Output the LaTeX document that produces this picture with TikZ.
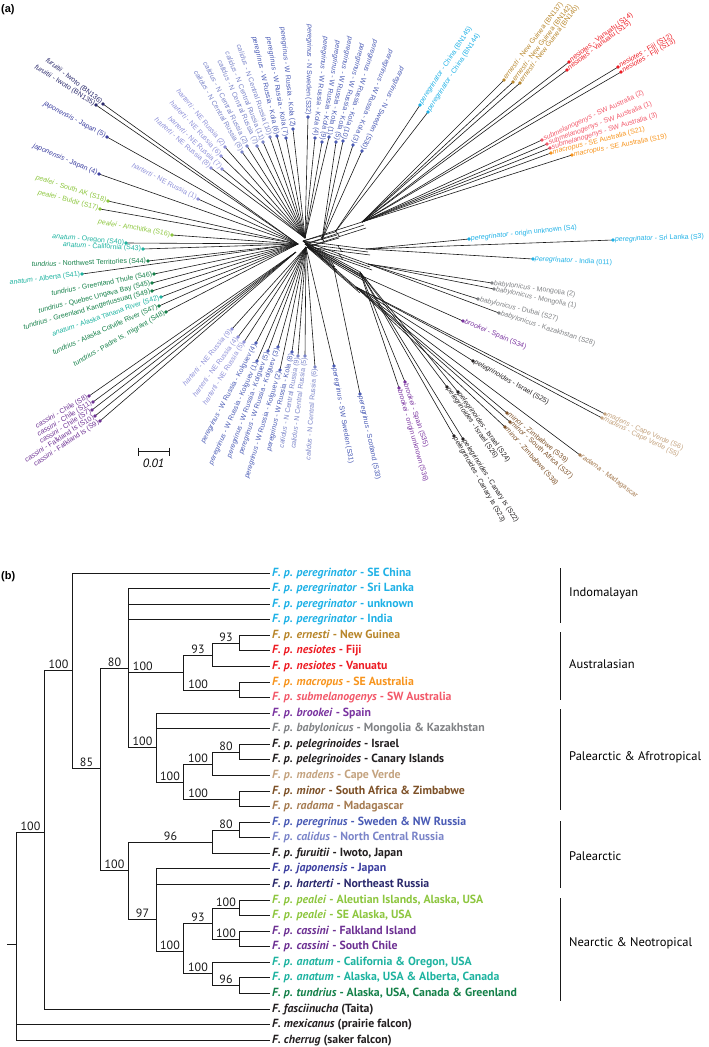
\documentclass[tikz,border=0pt]{standalone}
\usepackage{fontspec}
\setmainfont{PT Sans}
\newfontfamily\netfont{Liberation Sans}
\usetikzlibrary{calc}

\definecolor{cperegrinator}{HTML}{1FB1E6}
\definecolor{cernesti}{HTML}{B8862B}
\definecolor{cnesiotes}{HTML}{ED1C24}
\definecolor{cmacropus}{HTML}{F7941D}
\definecolor{csubmel}{HTML}{F2596A}
\definecolor{cbrookei}{HTML}{7A34A0}
\definecolor{cbabylon}{HTML}{808285}
\definecolor{cpeleg}{HTML}{231F20}
\definecolor{cmadens}{HTML}{C4A37F}
\definecolor{cminor}{HTML}{7D5128}
\definecolor{cradama}{HTML}{A67C52}
\definecolor{cperegrinus}{HTML}{4A5BB5}
\definecolor{ccalidus}{HTML}{7B85C9}
\definecolor{cjaponensis}{HTML}{3C3FA0}
\definecolor{charterti}{HTML}{2B2A6C}
\definecolor{chartertiA}{HTML}{8E90D8}
\definecolor{cfuruitii}{HTML}{2B2A6C}
\definecolor{cpealei}{HTML}{8DC63F}
\definecolor{ccassini}{HTML}{6D3193}
\definecolor{canatum}{HTML}{1EB3A0}
\definecolor{ctundrius}{HTML}{148049}

\begin{document}
\begin{tikzpicture}[x=1pt,y=-1pt,
  net/.style={line width=0.6pt, black!90},
  tree/.style={line width=1.7pt, black!90},
  lab/.style={font=\netfont\fontsize{7}{8}\selectfont, inner sep=1.8pt},
  leaf/.style={anchor=west, inner sep=2pt, text height=8pt, text depth=2.5pt, font=\bfseries\fontsize{11.8}{13}\selectfont},
  sup/.style={above, inner sep=1.5pt, font=\fontsize{12}{13}\selectfont},
  region/.style={anchor=west, inner sep=2pt, font=\fontsize{12.5}{14}\selectfont}]
\useasboundingbox (0,0) rectangle (709,1047);

% (a) network
\node[anchor=north west, inner sep=0pt, font=\netfont\bfseries\fontsize{11}{12}\selectfont] (pa) at (1,4) {(a)};

\coordinate (c0) at (303,241);
\coordinate (hL) at (298,244);
\coordinate (hC) at (296,252);
\coordinate (hT) at (305,238);
\coordinate (hR) at (322,240);
\coordinate (hB) at (306,247);
\coordinate (hCh) at (335,232);
\coordinate (hAu) at (362,222);
\coordinate (hIn) at (366,249);
\coordinate (hBa) at (368,264);
\coordinate (hBr) at (362,276);
\coordinate (hPe) at (356,287);
\coordinate (hP2) at (360,272);
\coordinate (hS) at (333,264);

% reticulate centre
\foreach \hub in {hCh,hAu,hIn,hBa,hBr,hPe,hP2,hS}
  \foreach \k in {0,1,2}
    \draw[net] ($(c0)+(2*\k,3*\k)$) -- ($(\hub)+(2*\k,3*\k)$);
\foreach \hub in {hCh,hAu,hIn,hBa,hPe,hS}
  \draw[net] ($(c0)!.55!(\hub)$) -- ++(4,6);

% tips whose label runs into the dot
\foreach \col/\hub/\px/\py/\ang/\lbl in {
  cfuruitii/hL/103/104/-38/{\emph{furuitii} - Iwoto (BN136)},
  cfuruitii/hL/96/105/-32/{\emph{furuitii} - Iwoto (BN135)},
  cjaponensis/hL/107/137/-28/{\emph{japonensis} - Japan (5)},
  cjaponensis/hL/99/174/-23/{\emph{japonensis} - Japan (4)},
  chartertiA/hL/198/199/-27/{\emph{harterti} - NE Russia (1)},
  cpealei/hL/108/201/-18/{\emph{pealei} - South AK (S18)},
  cpealei/hL/100/209/-15/{\emph{pealei} - Buldir (S17)},
  cpealei/hL/172/235/-10/{\emph{pealei} - Amchitka (S16)},
  canatum/hL/126/243/-5/{\emph{anatum} - Oregon (S40)},
  canatum/hL/143/249/-3/{\emph{anatum} - California (S43)},
  ctundrius/hL/148/261/2/{\emph{tundrius} - Northwest Territories (S44)},
  canatum/hL/82/274/7/{\emph{anatum} - Alberta (S41)},
  ctundrius/hL/154/274/11/{\emph{tundrius} - Greenland Thule (S46)},
  ctundrius/hL/152/283/14/{\emph{tundrius} - Quebec Ungava Bay (S45)},
  ctundrius/hL/152/291/16/{\emph{tundrius} - Greenland Kangerlussuaq (S49)},
  canatum/hL/161/297/19/{\emph{anatum} - Alaska Tanana River (S42)},
  ctundrius/hL/159/306/24/{\emph{tundrius} - Alaska Colville River (S47)},
  ctundrius/hL/166/312/30/{\emph{tundrius} - Padre Is. migrant (S48)},
  ccassini/hC/89/396/30/{\emph{cassini} - Chile (S8)},
  ccassini/hC/93/402/31/{\emph{cassini} - Chile (S11)},
  ccassini/hC/92/410/32/{\emph{cassini} - Chile (S7)},
  ccassini/hC/95/416/33/{\emph{cassini} - Falkland Is (S10)},
  ccassini/hC/100/421/34/{\emph{cassini} - Falkland Is (S9)},
  chartertiA/hT/211/168/-41/{\emph{harterti} - NE Russia (8)},
  chartertiA/hT/222/169/-44/{\emph{harterti} - NE Russia (7)},
  chartertiA/hT/221/156/-47/{\emph{harterti} - NE Russia (6)},
  chartertiA/hT/225/147/-50/{\emph{harterti} - NE Russia (2)},
  ccalidus/hT/242/152/-60/{\emph{calidus} - N Central Russia (8)},
  ccalidus/hT/247/146/-63/{\emph{calidus} - N Central Russia (2)},
  ccalidus/hT/257/146/-66/{\emph{calidus} - N Central Russia (7)},
  ccalidus/hT/263/142/-68/{\emph{calidus} - N Central Russia (11)},
  ccalidus/hT/270/137/-71/{\emph{calidus} - N Central Russia (10)},
  cperegrinus/hT/277/136/-77/{\emph{peregrinus} - W Russia - Kola (6)},
  cperegrinus/hT/286/138/-80/{\emph{peregrinus} - W Russia - Kola (7)},
  cperegrinus/hT/293/129/-84/{\emph{peregrinus} - W Russia - Kola (2)},
  cperegrinus/hT/308/117/-91/{\emph{peregrinus} - N Sweden (S32)},
  cperegrinus/hT/315/138/-96/{\emph{peregrinus} - W Russia - Kola (4)},
  cperegrinus/hT/322/142/-99/{\emph{peregrinus} - W Russia - Kola (9)},
  cperegrinus/hT/329/137/-102/{\emph{peregrinus} - W Russia - Kola (1)},
  cperegrinus/hR/336/142/-105/{\emph{peregrinus} - W Russia - Kola (5)},
  cperegrinus/hR/343/141/-108/{\emph{peregrinus} - W Russia - Kola (10)},
  cperegrinus/hR/353/145/-112/{\emph{peregrinus} - W Russia - Kola (3)},
  cperegrinus/hR/362/151/-116/{\emph{peregrinus} - N Sweden (S30)},
  chartertiA/hB/232/329/50/{\emph{harterti} - NE Russia (9)},
  chartertiA/hB/238/337/54/{\emph{harterti} - NE Russia (4)},
  chartertiA/hB/244/342/58/{\emph{harterti} - NE Russia (5)},
  cperegrinus/hB/256/343/62/{\emph{peregrinus} - W Russia - Kolguev (4)},
  cperegrinus/hB/257/361/66/{\emph{peregrinus} - W Russia - Kolguev (1)},
  cperegrinus/hB/268/351/70/{\emph{peregrinus} - W Russia - Kolguev (5)},
  cperegrinus/hB/278/347/71/{\emph{peregrinus} - W Russia - Kolguev (3)},
  cperegrinus/hB/280/370/73/{\emph{peregrinus} - W Russia - Kolguev (2)},
  cperegrinus/hB/292/352/77/{\emph{peregrinus} - W Russia - Kola (8)},
  ccalidus/hB/298/356/80/{\emph{calidus} - N Central Russia (9)},
  ccalidus/hB/305/356/83/{\emph{calidus} - N Central Russia (5)},
  ccalidus/hB/315/367/86/{\emph{calidus} - N Central Russia (6)}}
{
  \draw[net] (\px,\py) -- (\hub);
  \node[lab, anchor=east, rotate=\ang, text=\col] at (\px,\py) {\lbl};
  \fill[\col] (\px,\py) circle (1.8);
}

% tips whose label runs away from the dot
\foreach \col/\hub/\px/\py/\ang/\lbl in {
  cperegrinator/hCh/420/105/57/{\emph{peregrinator} - China (BN145)},
  cperegrinator/hCh/428/112/57/{\emph{peregrinator} - China (BN144)},
  cernesti/hAu/504/80/53/{\emph{ernesti} - New Guinea (BN137)},
  cernesti/hAu/513/82/53/{\emph{ernesti} - New Guinea (BN142)},
  cernesti/hAu/520/83/53/{\emph{ernesti} - New Guinea (BN140)},
  cnesiotes/hAu/569/62/37/{\emph{nesiotes} - Vanuatu (S14)},
  cnesiotes/hAu/567/70/37/{\emph{nesiotes} - Vanuatu (S15)},
  cnesiotes/hAu/618/67/30/{\emph{nesiotes} - Fiji (S12)},
  cnesiotes/hAu/621/72/30/{\emph{nesiotes} - Fiji (S13)},
  csubmel/hAu/542/140/25/{\emph{submelanogenys} - SW Australia (2)},
  csubmel/hAu/547/144/21/{\emph{submelanogenys} - SW Australia (1)},
  csubmel/hAu/550/148/17/{\emph{submelanogenys} - SW Australia (3)},
  cmacropus/hAu/551/153/14/{\emph{macropus} - SE Australia (S21)},
  cmacropus/hAu/572/155/11/{\emph{macropus} - SE Australia (S19)},
  cperegrinator/hIn/469/239/6/{\emph{peregrinator} - origin unknown (S4)},
  cperegrinator/hIn/613/240/2/{\emph{peregrinator} - Sri Lanka (S3)},
  cperegrinator/hIn/533/259/-3/{\emph{peregrinator} - India (011)},
  cbabylon/hBa/492/283/-8/{\emph{babylonicus} - Mongolia (2)},
  cbabylon/hBa/494/289/-12/{\emph{babylonicus} - Mongolia (1)},
  cbabylon/hBa/478/299/-14/{\emph{babylonicus} - Dubai (S27)},
  cbabylon/hBa/499/313/-18/{\emph{babylonicus} - Kazakhstan (S28)},
  cbrookei/hBr/463/321/-23/{\emph{brookei} - Spain (S34)},
  cpeleg/hPe/473/361/-29/{\emph{pelegrinoides} - Israel (S25)},
  cmadens/hPe/605/414/-24/{\emph{madens} - Cape Verde (S6)},
  cmadens/hPe/602/418/-26/{\emph{madens} - Cape Verde (S5)},
  cradama/hPe/580/455/-36/{\emph{radama} - Madagascar},
  cminor/hPe/507/413/-39/{\emph{minor} - Zimbabwe (S39)},
  cminor/hPe/510/422/-42/{\emph{minor} - South Africa (S37)},
  cminor/hPe/505/427/-48/{\emph{minor} - Zimbabwe (S38)},
  cpeleg/hP2/447/387/-55/{\emph{pelegrinoides} - Israel (S26)},
  cpeleg/hP2/458/392/-54/{\emph{pelegrinoides} - Israel (S24)},
  cpeleg/hP2/454/436/-60/{\emph{pelegrinoides} - Canary Is (S23)},
  cpeleg/hP2/463/439/-57/{\emph{pelegrinoides} - Canary Is (S22)},
  cbrookei/hP2/405/382/-72/{\emph{brookei} - Spain (S35)},
  cbrookei/hP2/399/388/-74/{\emph{brookei} - origin unknown (S36)},
  cperegrinus/hB/334/366/-80/{\emph{peregrinus} - SW Sweden (S31)},
  cperegrinus/hS/360/394/-78/{\emph{peregrinus} - Scotland (S33)}}
{
  \draw[net] (\hub) -- (\px,\py);
  \node[lab, anchor=west, rotate=\ang, text=\col] at (\px,\py) {\lbl};
  \fill[\col] (\px,\py) circle (1.8);
}

% scale bar
\coordinate (s1) at (138,451.5);
\coordinate (s2) at (169,451.5);
\draw[net, line width=0.8pt] (s1) -- (s2);
\draw[net, line width=0.8pt] ($(s1)+(0,-4)$) -- ($(s1)+(0,4)$);
\draw[net, line width=0.8pt] ($(s2)+(0,-4)$) -- ($(s2)+(0,4)$);
\node[font=\itshape\fontsize{12}{13}\selectfont] (sc) at (153.5,463) {0.01};

% (b) tree
\node[anchor=west, inner sep=0pt, font=\netfont\bfseries\fontsize{11}{12}\selectfont] (pb) at (1,577) {(b)};

\node[leaf, text=cperegrinator] (l1) at (270,573.5) {\emph{F. p. peregrinator} - SE China};
\node[leaf, text=cperegrinator] (l2) at (270,588.5) {\emph{F. p. peregrinator} - Sri Lanka};
\node[leaf, text=cperegrinator] (l3) at (270,604.5) {\emph{F. p. peregrinator} - unknown};
\node[leaf, text=cperegrinator] (l4) at (270,619.5) {\emph{F. p. peregrinator} - India};
\node[leaf, text=cernesti] (l5) at (270,635.5) {\emph{F. p. ernesti} - New Guinea};
\node[leaf, text=cnesiotes] (l6) at (270,650.5) {\emph{F. p. nesiotes} - Fiji};
\node[leaf, text=cnesiotes] (l7) at (270,666.5) {\emph{F. p. nesiotes} - Vanuatu};
\node[leaf, text=cmacropus] (l8) at (270,682.5) {\emph{F. p. macropus} - SE Australia};
\node[leaf, text=csubmel] (l9) at (270,697.5) {\emph{F. p. submelanogenys} - SW Australia};
\node[leaf, text=cbrookei] (l10) at (270,713.5) {\emph{F. p. brookei} - Spain};
\node[leaf, text=cbabylon] (l11) at (270,728.5) {\emph{F. p. babylonicus} - Mongolia \& Kazakhstan};
\node[leaf, text=cpeleg] (l12) at (270,744.5) {\emph{F. p. pelegrinoides} - Israel};
\node[leaf, text=cpeleg] (l13) at (270,759.5) {\emph{F. p. pelegrinoides} - Canary Islands};
\node[leaf, text=cmadens] (l14) at (270,775.5) {\emph{F. p. madens} - Cape Verde};
\node[leaf, text=cminor] (l15) at (270,791.5) {\emph{F. p. minor} - South Africa \& Zimbabwe};
\node[leaf, text=cradama] (l16) at (270,806.5) {\emph{F. p. radama} - Madagascar};
\node[leaf, text=cperegrinus] (l17) at (270,822.5) {\emph{F. p. peregrinus} - Sweden \& NW Russia};
\node[leaf, text=ccalidus] (l18) at (270,837.5) {\emph{F. p. calidus} - North Central Russia};
\node[leaf, text=cpeleg] (l19) at (270,853.5) {\emph{F. p. furuitii} - Iwoto, Japan};
\node[leaf, text=cjaponensis] (l20) at (270,868.5) {\emph{F. p. japonensis} - Japan};
\node[leaf, text=charterti] (l21) at (270,884.5) {\emph{F. p. harterti} - Northeast Russia};
\node[leaf, text=cpealei] (l22) at (270,900.5) {\emph{F. p. pealei} - Aleutian Islands, Alaska, USA};
\node[leaf, text=cpealei] (l23) at (270,915.5) {\emph{F. p. pealei} - SE Alaska, USA};
\node[leaf, text=ccassini] (l24) at (270,931.5) {\emph{F. p. cassini} - Falkland Island};
\node[leaf, text=ccassini] (l25) at (270,946.5) {\emph{F. p. cassini} - South Chile};
\node[leaf, text=canatum] (l26) at (270,962.5) {\emph{F. p. anatum} - California \& Oregon, USA};
\node[leaf, text=canatum] (l27) at (270,977.5) {\emph{F. p. anatum} - Alaska, USA \& Alberta, Canada};
\node[leaf, text=ctundrius] (l28) at (270,993.5) {\emph{F. p. tundrius} - Alaska, USA, Canada \& Greenland};
\node[leaf, text=cpeleg] (l29) at (270,1009.5) {\emph{F. fasciinucha} (Taita)};
\node[leaf, text=cpeleg] (l30) at (270,1024.5) {\emph{F. mexicanus} (prairie falcon)};
\node[leaf, text=cpeleg] (l31) at (270,1040.5) {\emph{F. cherrug} (saker falcon)};

\coordinate (stub) at (7,944.5);
\coordinate (root) at (16.5,944.5);
\coordinate (nA) at (44.5,832.5);
\coordinate (nB) at (72.5,670.5);
\coordinate (nC) at (100.5,768.5);
\coordinate (nD) at (128.5,668.5);
\coordinate (nF) at (183.5,672.5);
\coordinate (nH) at (212.5,655.5);
\coordinate (nJ) at (239.5,643.5);
\coordinate (nI) at (239.5,690.5);
\coordinate (nG) at (156.5,747.5);
\coordinate (nK) at (183.5,782.5);
\coordinate (nL) at (212.5,764.5);
\coordinate (nN) at (239.5,752.5);
\coordinate (nM) at (239.5,799.5);
\coordinate (nE) at (128.5,870.5);
\coordinate (nP) at (212.5,842.5);
\coordinate (nR) at (239.5,830.5);
\coordinate (nQ) at (156.5,919.5);
\coordinate (nS) at (183.5,951.5);
\coordinate (nT) at (212.5,923.5);
\coordinate (nV) at (239.5,908.5);
\coordinate (nW) at (239.5,939.5);
\coordinate (nU) at (212.5,973.5);
\coordinate (nX) at (239.5,985.5);

\draw[tree] (stub) -- (root);
\draw[tree] (root) |- node[sup, pos=.75] {100} (nA);
\draw[tree] (root) |- (l30.west);
\draw[tree] (root) |- (l31.west);
\draw[tree] (nA) |- node[sup, pos=.75] {100} (nB);
\draw[tree] (nA) |- (l29.west);
\draw[tree] (nB) |- (l1.west);
\draw[tree] (nB) |- node[sup, pos=.75] {85} (nC);
\draw[tree] (nC) |- node[sup, pos=.75] {80} (nD);
\draw[tree] (nC) |- node[sup, pos=.75] {100} (nE);
\draw[tree] (nD) |- (l2.west);
\draw[tree] (nD) |- (l3.west);
\draw[tree] (nD) |- (l4.west);
\draw[tree] (nD) |- node[sup, pos=.63] {100} (nF);
\draw[tree] (nD) |- node[sup, pos=.75] {100} (nG);
\draw[tree] (nF) |- node[sup, pos=.75] {93} (nH);
\draw[tree] (nF) |- node[sup, pos=.63] {100} (nI);
\draw[tree] (nH) |- node[sup, pos=.75] {93} (nJ);
\draw[tree] (nH) |- (l7.west);
\draw[tree] (nJ) |- (l5.west);
\draw[tree] (nJ) |- (l6.west);
\draw[tree] (nI) |- (l8.west);
\draw[tree] (nI) |- (l9.west);
\draw[tree] (nG) |- (l10.west);
\draw[tree] (nG) |- (l11.west);
\draw[tree] (nG) |- node[sup, pos=.75] {100} (nK);
\draw[tree] (nK) |- node[sup, pos=.75] {100} (nL);
\draw[tree] (nK) |- node[sup, pos=.63] {100} (nM);
\draw[tree] (nL) |- node[sup, pos=.75] {80} (nN);
\draw[tree] (nL) |- (l14.west);
\draw[tree] (nN) |- (l12.west);
\draw[tree] (nN) |- (l13.west);
\draw[tree] (nM) |- (l15.west);
\draw[tree] (nM) |- (l16.west);
\draw[tree] (nE) |- node[sup, pos=.75] {96} (nP);
\draw[tree] (nE) |- node[sup, pos=.75] {97} (nQ);
\draw[tree] (nP) |- node[sup, pos=.75] {80} (nR);
\draw[tree] (nP) |- (l19.west);
\draw[tree] (nR) |- (l17.west);
\draw[tree] (nR) |- (l18.west);
\draw[tree] (nQ) |- (l20.west);
\draw[tree] (nQ) |- (l21.west);
\draw[tree] (nQ) |- node[sup, pos=.75] {100} (nS);
\draw[tree] (nS) |- node[sup, pos=.75] {93} (nT);
\draw[tree] (nS) |- node[sup, pos=.75] {100} (nU);
\draw[tree] (nT) |- node[sup, pos=.75] {100} (nV);
\draw[tree] (nT) |- node[sup, pos=.75] {100} (nW);
\draw[tree] (nV) |- (l22.west);
\draw[tree] (nV) |- (l23.west);
\draw[tree] (nW) |- (l24.west);
\draw[tree] (nW) |- (l25.west);
\draw[tree] (nU) |- (l26.west);
\draw[tree] (nU) |- node[sup, pos=.75] {96} (nX);
\draw[tree] (nX) |- (l27.west);
\draw[tree] (nX) |- (l28.west);

% regions
\draw[tree] (560.5,568) -- (560.5,623);
\draw[tree] (560.5,632) -- (560.5,700);
\draw[tree] (560.5,709) -- (560.5,810);
\draw[tree] (560.5,821) -- (560.5,888);
\draw[tree] (560.5,898) -- (560.5,1001);
\node[region] (r1) at (567,593) {Indomalayan};
\node[region] (r2) at (567,664) {Australasian};
\node[region] (r3) at (567,757) {Palearctic \& Afrotropical};
\node[region] (r4) at (567,856) {Palearctic};
\node[region] (r5) at (567,943) {Nearctic \& Neotropical};
\end{tikzpicture}
\end{document}
